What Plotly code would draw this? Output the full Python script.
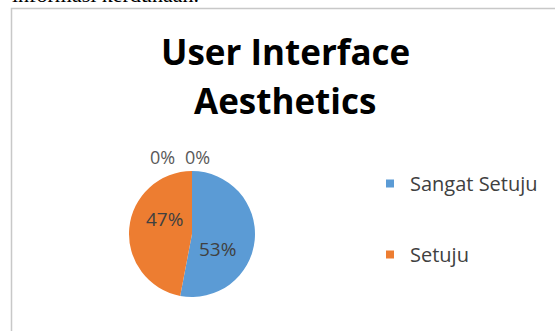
import plotly.graph_objects as go

labels = ["Sangat Setuju", "Setuju", "Tidak Setuju", "Sangat Tidak Setuju"]
values = [53, 47, 0, 0]
colors = ["#5B9BD5", "#ED7D31", "#A5A5A5", "#FFC000"]
legend_labels = ["Sangat Setuju", "Setuju"]
title_lines = ["User Interface", "Aesthetics"]
caption_text = "informasi kerdunaan."

W, H = 555, 331
FONT = "Open Sans"

fig = go.Figure()
fig.add_trace(go.Pie(
    labels=labels, values=values, sort=False, direction="clockwise", rotation=0,
    marker=dict(colors=colors, line=dict(width=0)),
    textinfo="none", hoverinfo="label+percent", showlegend=False,
    domain=dict(x=[129 / W, 255 / W], y=[(H - 297) / H, (H - 171) / H]),
))

# legend via dummy traces
for lab, col in zip(legend_labels, colors[:2]):
    fig.add_trace(go.Scatter(
        x=[None], y=[None], mode="markers", name=lab, legendgroup=lab,
        marker=dict(symbol="square", size=8, color=col),
    ))

total = sum(values)
pct = [f"{round(v / total * 100)}%" for v in values]
# label placements (style)
label_pos = [(217, 249, "#404040", 19), (164, 219, "#404040", 19),
             (162, 157, "#595959", 18), (197, 157, "#595959", 18)]
annotations = []
for p, (px, py, c, s) in zip(pct, label_pos):
    annotations.append(dict(x=px / W, y=(H - py) / H, xref="paper", yref="paper",
                            xanchor="center", yanchor="middle",
                            text=p, showarrow=False, font=dict(family=FONT, size=s, color=c)))

for line, cy in zip(title_lines, [51, 100]):
    annotations.append(dict(x=285 / W, y=(H - cy) / H, xref="paper", yref="paper",
                            xanchor="center", yanchor="middle",
                            text="<b>" + line + "</b>", showarrow=False,
                            font=dict(family=FONT, size=35, color="#000000")))
annotations.append(dict(x=10 / W, y=(H + 5.5) / H, xref="paper", yref="paper", xanchor="left",
                        yanchor="middle", text=caption_text, showarrow=False,
                        font=dict(family="Liberation Serif", size=22, color="#000000")))

fig.update_layout(
    width=W, height=H, margin=dict(l=0, r=0, t=0, b=0),
    paper_bgcolor="white", plot_bgcolor="white",
    xaxis=dict(visible=False), yaxis=dict(visible=False),
    annotations=annotations,
    legend=dict(x=370 / W, y=(H - 164) / H, xanchor="left", yanchor="top",
                tracegroupgap=42, font=dict(family=FONT, size=20, color="#404040"),
                itemwidth=30, bgcolor="rgba(0,0,0,0)"),
    shapes=[dict(type="rect", xref="paper", yref="paper", x0=11.5 / W, x1=1.2,
                 y0=-0.2, y1=(H - 8.5) / H, line=dict(color="#C8C8C8", width=1.5))],
)

fig.write_html("out.html", config={"displayModeBar": False},
               post_script="document.body.style.margin='0';document.body.style.overflow='hidden';")
